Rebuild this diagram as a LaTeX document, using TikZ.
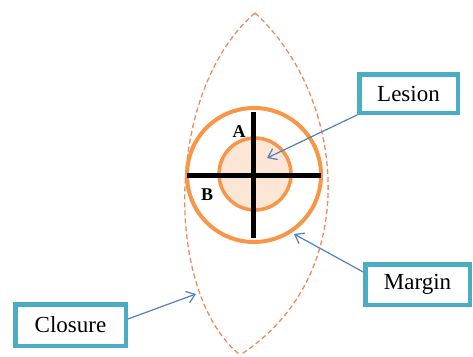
\documentclass[tikz,border=0pt]{standalone}
\usepackage{fontspec}
\setmainfont{Liberation Serif}
\usetikzlibrary{arrows.meta}
\definecolor{ringorange}{HTML}{F79646}
\definecolor{lesionfill}{HTML}{FDE6D6}
\definecolor{lensorange}{HTML}{EE8A5C}
\definecolor{boxteal}{HTML}{4BACC6}
\definecolor{arrowblue}{HTML}{4F81BD}
\tikzset{
  labelbox/.style={draw=boxteal, line width=4.5pt, fill=white, inner sep=0pt,
    font=\fontsize{23}{26}\selectfont},
  pointer/.style={draw=arrowblue, line width=1.2pt,
    -{Straight Barb[length=8pt,width=12pt,line width=1.2pt]}},
  ring/.style={draw=ringorange, line width=4pt},
  crossline/.style={draw=black, line width=5pt},
  lens/.style={draw=lensorange, line width=1.3pt, dash pattern=on 5pt off 3pt},
  letter/.style={font=\fontsize{18}{20}\selectfont\bfseries, inner sep=0pt}
}
\begin{document}
\begin{tikzpicture}[x=1pt,y=-1pt]
\useasboundingbox (0,0) rectangle (473,356);
% lens (closure)
\draw[lens] (255,13) .. controls (165,90) and (163,292) .. (240,355);
\draw[lens] (255,13) .. controls (345,95) and (365,275) .. (240,355);
% rings
\coordinate (c) at (254,175);
\draw[ring] (c) circle[radius=67];
\draw[ring, fill=lesionfill, line width=3.5pt] (255,174) circle[radius=36];
% cross
\draw[crossline] (187,175) -- (321,175);
\draw[crossline] (253,112) -- (253,238);
\node[letter] (A) at (239,132) {A};
\node[letter] (B) at (207,195) {B};
% boxes
\node[labelbox, minimum width=98.5pt, minimum height=38.5pt] (lesion) at (408.5,93.5) {Lesion};
\node[labelbox, minimum width=104.5pt, minimum height=40.5pt] (margin) at (417.5,284.5) {Margin};
\node[labelbox, minimum width=110.5pt, minimum height=41.5pt] (closure) at (70.5,325) {Closure};
% pointer targets
\coordinate (lesiontip) at (267,158);
\coordinate (margintip) at (294,234);
\coordinate (closuretip) at (196,294);
\draw[pointer] (lesion.south west) -- (lesiontip);
\draw[pointer] (margin.167) -- (margintip);
\draw[pointer] (closure.6) -- (closuretip);
\end{tikzpicture}
\end{document}
